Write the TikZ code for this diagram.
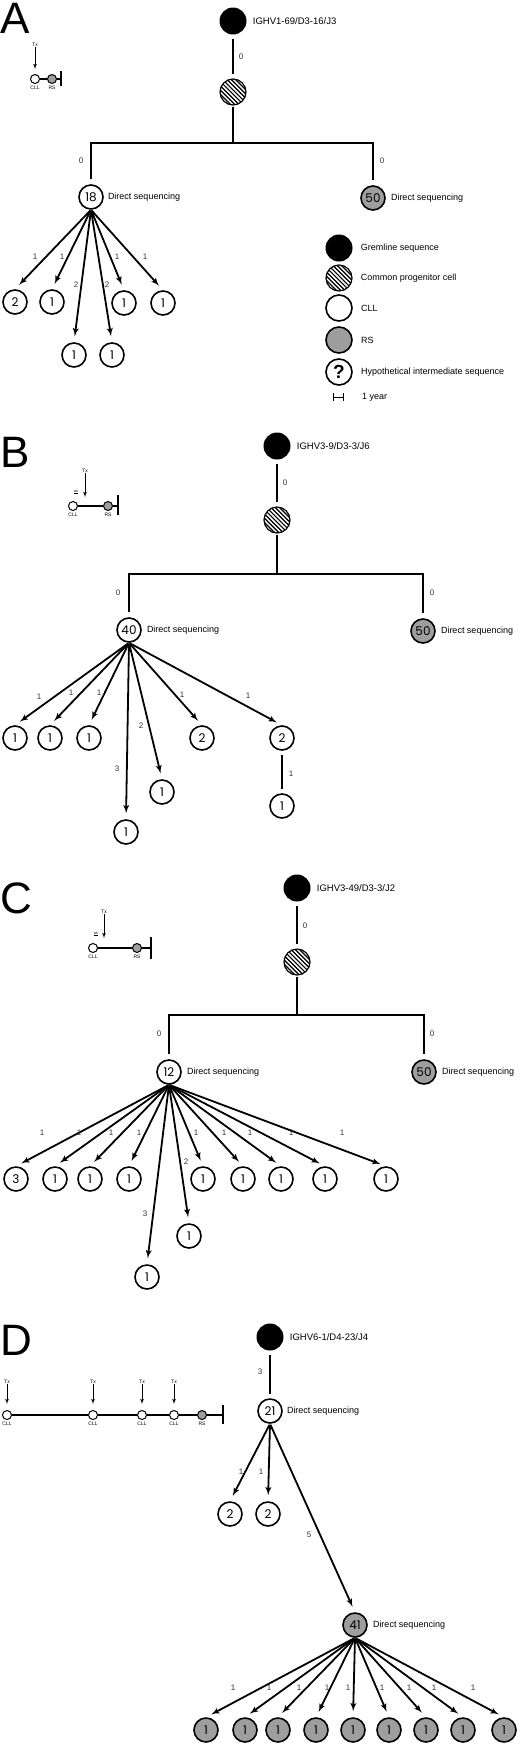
\documentclass[tikz,border=0pt]{standalone}
\usepackage{fontspec}
\setmainfont{Liberation Sans}
\newfontfamily\geofont{Poppins}
\usepackage{tikz}
\usetikzlibrary{arrows,positioning}
\definecolor{rsgray}{RGB}{158,158,158}

\begin{document}
\begin{tikzpicture}[x=1pt,y=-1pt]

		\tikzset{
		    panel/.style={font=\fontsize{44}{44}\selectfont, inner sep=0pt, anchor=base west, text height=31pt, text depth=0pt},
		    gene/.style={font=\fontsize{9.5}{10}\selectfont, inner sep=0pt, anchor=west},
		    dseq/.style={font=\fontsize{9}{10}\selectfont, inner sep=0pt, anchor=west},
		    lab/.style={font=\fontsize{8}{9}\selectfont, inner sep=0pt, text=black!80},
		    seq/.style={circle, draw, line width=1.6pt, minimum size=24pt, inner sep=0pt, font=\geofont\fontsize{12}{12}\selectfont},
		    cll/.style={seq, fill=white},
		    rs/.style={seq, fill=rsgray},
		    germ/.style={circle, fill=black, minimum size=27pt, inner sep=0pt},
		    prog/.style={circle, draw, line width=1.2pt, fill=black, minimum size=26pt, inner sep=0pt,
		        path picture={
		            \foreach \k in {-6,...,6}
		                \draw[white, line width=1.5pt] ([xshift=\k*4.3pt-16pt, yshift=16pt]path picture bounding box.center) -- ++(32pt,-32pt);
		        }},
		    quest/.style={circle, draw, line width=1.6pt, minimum size=26pt, inner sep=0pt, font=\bfseries\fontsize{19}{19}\selectfont},
		    edge/.style={line width=2pt, shorten <=4pt, shorten >=4pt},
		    mut/.style={line width=1.8pt, -latex', shorten <=1pt, shorten >=6pt},
		    tiny/.style={font=\fontsize{5}{5}\selectfont, inner sep=0pt},
		    tcll/.style={circle, draw, line width=1pt, fill=white, minimum size=9pt, inner sep=0pt},
		    trs/.style={tcll, fill=rsgray},
		    tline/.style={line width=1.3pt},
		    tx/.style={line width=0.8pt, -latex'}
		}

		\fill[white] (0,0) rectangle (520,1746);
		\useasboundingbox (0,0) rectangle (520,1746);

		% ---------------- panel A ----------------

		\node[panel] (lblA) at (0,33) {A};

		% timeline
		\node[tcll] (tA1) at (35,79) {};
		\node[trs] (tA2) at (52,79) {};
		\coordinate (eA) at (61,79);
		\draw[tline] (tA1) -- (tA2) -- (eA);
		\draw[tline] ([yshift=-7pt]eA) -- ([yshift=8pt]eA);
		\node[tiny] (txA) at (35,45) {Tx};
		\draw[tx, shorten >=5pt] (txA) -- (tA1);
		\node[tiny, below=2pt of tA1] (clA) {CLL};
		\node[tiny, below=2pt of tA2] (rsA) {RS};

		% tree
		\node[germ] (gA) at (233,21) {};
		\node[gene, right=6pt of gA] (geneA) {IGHV1-69/D3-16/J3};
		\node[prog] (pA) at (233,92) {};
		\draw[edge] (gA) -- (pA);
		\node[lab] (zA1) at (241,57) {0};

		\coordinate (bA) at (233,143);
		\node[cll] (cA) at (91,197) {18};
		\node[dseq, right=4pt of cA] (dA1) {Direct sequencing};
		\node[rs] (rA) at (373,198) {50};
		\node[dseq, right=5pt of rA] (dA2) {Direct sequencing};
		\draw[edge, shorten <=1pt, shorten >=0pt] (pA) -- (bA);
		\draw[edge, shorten <=5pt, shorten >=5pt] (cA) |- (bA) -| (rA);
		\node[lab] (zA2) at (81,161) {0};
		\node[lab] (zA3) at (382,161) {0};

		\foreach \x/\y/\n/\m/\lx/\ly [count=\i] in {15/302/2/1/35/257, 52/302/1/1/62/257, 74/355/1/2/76/285,
		        112/355/1/2/107/285, 124/303/1/1/117/257, 163/303/1/1/145/257}{
		    \node[cll] (cA\i) at (\x,\y) {\n};
		    \draw[mut] (cA.south) -- (cA\i.north);
		    \node[lab] (mA\i) at (\lx,\ly) {\m};
		}

		% legend
		\node[germ] (kG) at (339,248) {};
		\node[dseq, right=8pt of kG] (kGt) {Gremline sequence};
		\node[prog] (kP) at (339,278) {};
		\node[dseq, right=8pt of kP] (kPt) {Common progenitor cell};
		\node[cll, minimum size=26pt] (kC) at (339,308) {};
		\node[dseq, right=8pt of kC] (kCt) {CLL};
		\node[rs, minimum size=26pt] (kR) at (339,340) {};
		\node[dseq, right=8pt of kR] (kRt) {RS};
		\node[quest] (kQ) at (339,372) {?};
		\node[dseq, right=8pt of kQ] (kQt) {Hypothetical intermediate sequence};
		\coordinate (kY1) at (333,397);
		\coordinate (kY2) at (343,397);
		\draw[line width=1pt] (kY1) -- (kY2);
		\draw[line width=1pt] ([yshift=4pt]kY1) -- ([yshift=-4pt]kY1);
		\draw[line width=1pt] ([yshift=4pt]kY2) -- ([yshift=-4pt]kY2);
		\node[dseq] (kYt) at (362,397) {1 year};

		% ---------------- panel B ----------------

		\node[panel] (lblB) at (0,467) {B};

		% timeline
		\node[tcll] (tB1) at (73,506) {};
		\node[trs] (tB2) at (108,506) {};
		\coordinate (eB) at (118,506);
		\draw[tline] (tB1) -- (tB2) -- (eB);
		\draw[tline] ([yshift=-9pt]eB) -- ([yshift=11pt]eB);
		\node[tiny] (txB) at (85,471) {Tx};
		\coordinate (aB) at (85,497);
		\draw[tx] (txB) -- (aB);
		\node[tiny, font=\fontsize{3.5}{4}\selectfont] (wkB) at (76,492) {\underline{wk}};
		\node[tiny, below=2pt of tB1] (clB) {CLL};
		\node[tiny, below=2pt of tB2] (rsB) {RS};

		% tree
		\node[germ] (gB) at (277,446) {};
		\node[gene, right=6pt of gB] (geneB) {IGHV3-9/D3-3/J6};
		\node[prog] (pB) at (277,520) {};
		\draw[edge] (gB) -- (pB);
		\node[lab] (zB1) at (285,483) {0};

		\coordinate (bB) at (277,574);
		\node[cll] (cB) at (129,630) {40};
		\node[dseq, right=5pt of cB] (dB1) {Direct sequencing};
		\node[rs] (rB) at (423,631) {50};
		\node[dseq, right=5pt of rB] (dB2) {Direct sequencing};
		\draw[edge, shorten <=1pt, shorten >=0pt] (pB) -- (bB);
		\draw[edge, shorten <=5pt, shorten >=5pt] (cB) |- (bB) -| (rB);
		\node[lab] (zB2) at (118,593) {0};
		\node[lab] (zB3) at (432,593) {0};

		\foreach \x/\y/\n/\m/\lx/\ly [count=\i] in {15/738/1/1/39/697, 50/738/1/1/71/693, 89/738/1/1/99/693,
		        126/832/1/3/117/769, 162/792/1/2/141/726, 202/738/2/1/182/695, 282/738/2/1/248/696}{
		    \node[cll] (cB\i) at (\x,\y) {\n};
		    \draw[mut] (cB.south) -- (cB\i.north);
		    \node[lab] (mB\i) at (\lx,\ly) {\m};
		}
		\node[cll] (cB8) at (282,806) {1};
		\draw[edge] (cB7) -- (cB8);
		\node[lab] (mB8) at (291,774) {1};

		% ---------------- panel C ----------------

		\node[panel] (lblC) at (0,913) {C};

		% timeline
		\node[tcll] (tC1) at (93,948) {};
		\node[trs] (tC2) at (137,948) {};
		\coordinate (eC) at (151,948);
		\draw[tline] (tC1) -- (tC2) -- (eC);
		\draw[tline] ([yshift=-11pt]eC) -- ([yshift=11pt]eC);
		\node[tiny] (txC) at (104,912) {Tx};
		\coordinate (aC) at (104,938);
		\draw[tx] (txC) -- (aC);
		\node[tiny, font=\fontsize{3.5}{4}\selectfont] (wkC) at (96,934) {\underline{wk}};
		\node[tiny, below=2pt of tC1] (clC) {CLL};
		\node[tiny, below=2pt of tC2] (rsC) {RS};

		% tree
		\node[germ] (gC) at (297,888) {};
		\node[gene, right=6pt of gC] (geneC) {IGHV3-49/D3-3/J2};
		\node[prog] (pC) at (297,962) {};
		\draw[edge] (gC) -- (pC);
		\node[lab] (zC1) at (305,926) {0};

		\coordinate (bC) at (297,1015);
		\node[cll] (cC) at (169,1072) {12};
		\node[dseq, right=5pt of cC] (dC1) {Direct sequencing};
		\node[rs] (rC) at (424,1072) {50};
		\node[dseq, right=5pt of rC] (dC2) {Direct sequencing};
		\draw[edge, shorten <=1pt, shorten >=0pt] (pC) -- (bC);
		\draw[edge, shorten <=5pt, shorten >=5pt] (cC) |- (bC) -| (rC);
		\node[lab] (zC2) at (159,1034) {0};
		\node[lab] (zC3) at (432,1034) {0};

		\foreach \x/\y/\n/\m/\lx/\ly [count=\i] in {16/1179/3/1/42/1133, 55/1179/1/1/79/1133, 90/1179/1/1/111/1133,
		        129/1179/1/1/139/1133, 147/1277/1/3/145/1214, 189/1236/1/2/186/1162, 203/1179/1/1/196/1133,
		        243/1179/1/1/224/1133, 281/1179/1/1/250/1133, 325/1179/1/1/291/1133, 386/1179/1/1/342/1133}{
		    \node[cll] (cC\i) at (\x,\y) {\n};
		    \draw[mut] (cC.south) -- (cC\i.north);
		    \node[lab] (mC\i) at (\lx,\ly) {\m};
		}

		% ---------------- panel D ----------------

		\node[panel] (lblD) at (0,1355) {D};

		% timeline
		\foreach \x [count=\i] in {7,93,142,174}{
		    \node[tcll] (tD\i) at (\x,1415) {};
		    \node[tiny] (txD\i) at (\x,1382) {Tx};
		    \draw[tx, shorten >=6pt] (txD\i) -- (tD\i);
		    \node[tiny, below=2pt of tD\i] (clD\i) {CLL};
		}
		\node[trs] (tD5) at (202,1415) {};
		\node[tiny, below=2pt of tD5] (rsD) {RS};
		\coordinate (eD) at (223,1415);
		\draw[tline] (tD1) -- (tD2) -- (tD3) -- (tD4) -- (tD5) -- (eD);
		\draw[tline] ([yshift=-9pt]eD) -- ([yshift=10pt]eD);

		% tree
		\node[germ] (gD) at (270,1337) {};
		\node[gene, right=6pt of gD] (geneD) {IGHV6-1/D4-23/J4};
		\node[cll] (cD) at (270,1411) {21};
		\node[dseq, right=4pt of cD] (dD1) {Direct sequencing};
		\draw[edge] (gD) -- (cD);
		\node[lab] (zD1) at (260,1372) {3};

		\foreach \x/\lx [count=\i] in {230/241, 268/261}{
		    \node[cll] (cD\i) at (\x,1514) {2};
		    \draw[mut] (cD.south) -- (cD\i.north);
		    \node[lab] (mD\i) at (\lx,1472) {1};
		}

		\node[rs] (rD) at (355,1625) {41};
		\node[dseq, right=5pt of rD] (dD2) {Direct sequencing};
		\draw[mut] (cD.south) -- (rD.north);
		\node[lab] (mD3) at (309,1535) {5};

		\foreach \x/\lx [count=\i] in {206/233, 245/269, 278/299, 316/327, 353/348, 389/382, 426/409, 463/434, 504/473}{
		    \node[rs] (rD\i) at (\x,1730) {1};
		    \draw[mut] (rD.south) -- (rD\i.north);
		    \node[lab] (nD\i) at (\lx,1688) {1};
		}

\end{tikzpicture}
\end{document}
